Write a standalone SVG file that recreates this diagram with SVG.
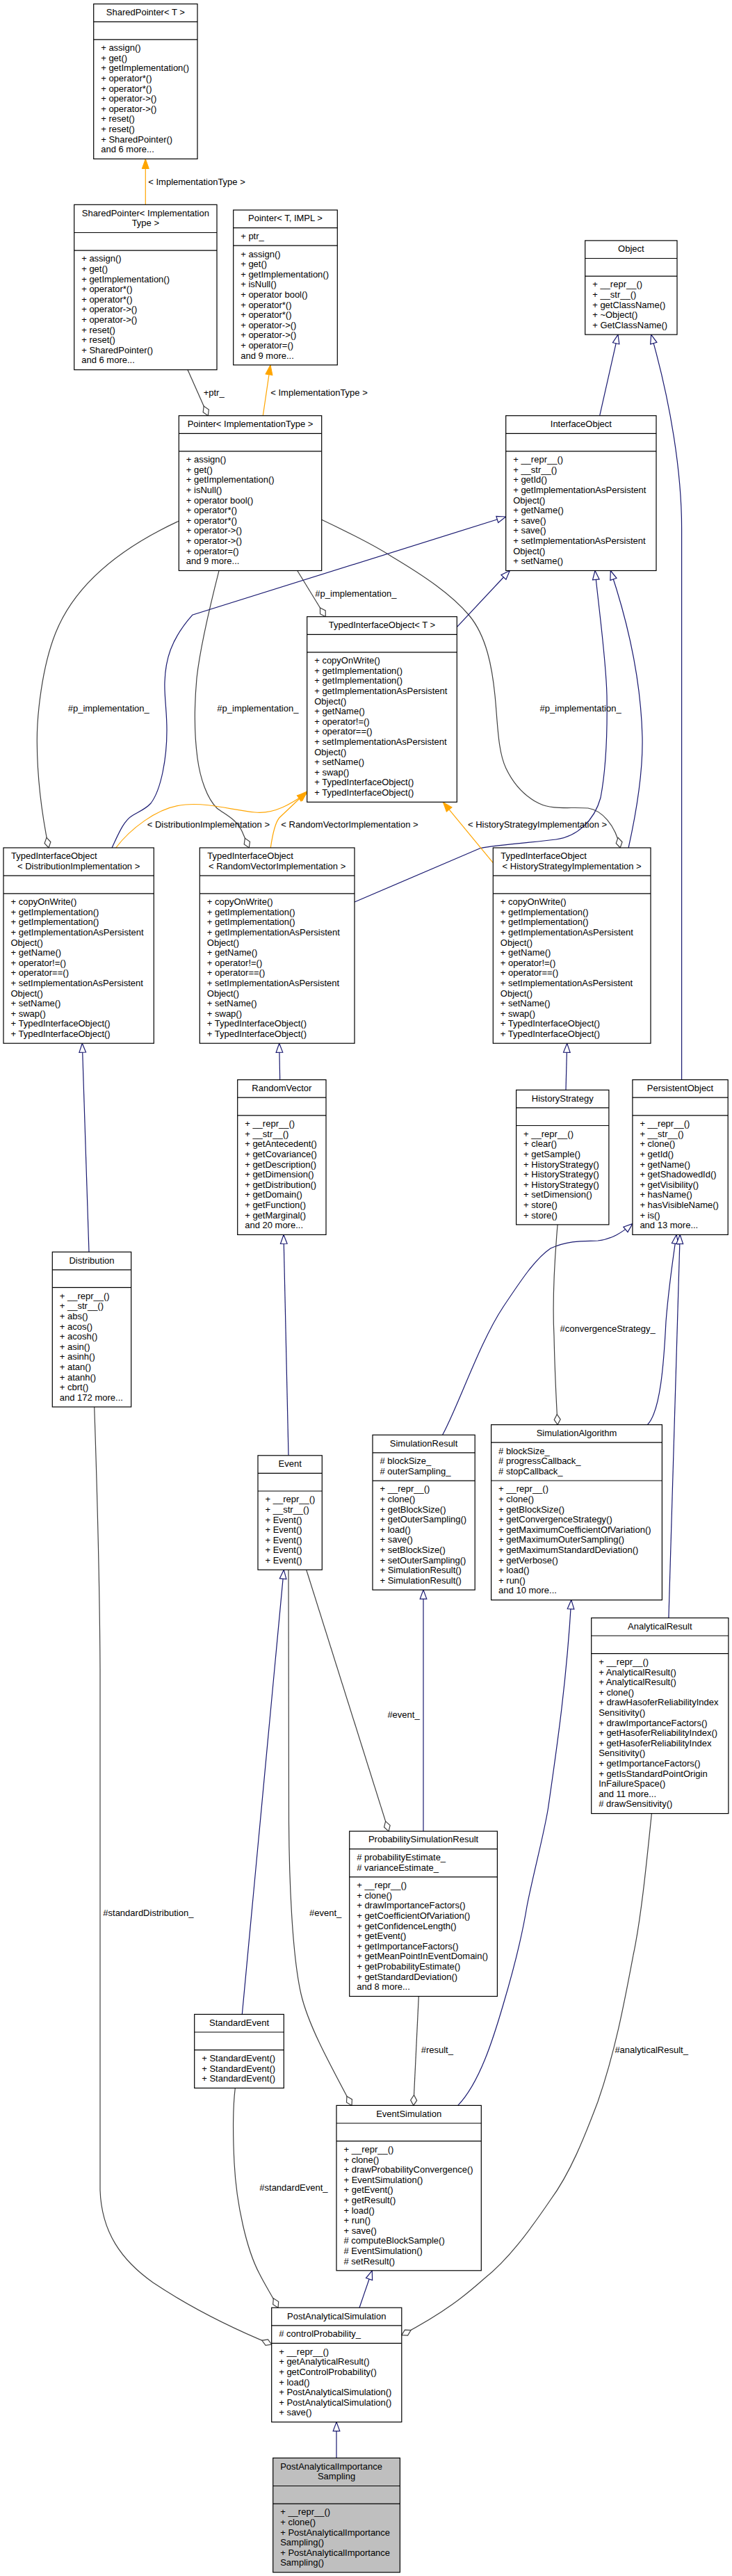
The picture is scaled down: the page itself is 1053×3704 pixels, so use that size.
<svg xmlns="http://www.w3.org/2000/svg" width="1053" height="3704" viewBox="0 0 1053 3704">
<style>
.bg{fill:#fff}
.box{fill:#fff;stroke:#000;stroke-width:1.2}
.gbox{fill:#bfbfbf;stroke:#000;stroke-width:1.2}
.sep{stroke:#000;stroke-width:1.2}
text{font-family:"Liberation Sans",Arial,Helvetica,sans-serif;font-size:13px;fill:#000}
.c{text-anchor:middle}
.inh{fill:none;stroke:#191970;stroke-width:1.2;marker-end:url(#mInh)}
.use{fill:none;stroke:#404040;stroke-width:1.2;marker-end:url(#mDia)}
.tpl{fill:none;stroke:#FFA500;stroke-width:1.2;marker-end:url(#mTpl)}
</style>
<defs>
<marker id="mInh" viewBox="-15 -7 16 14" refX="0" refY="0" markerWidth="16" markerHeight="14" markerUnits="userSpaceOnUse" orient="auto"><path d="M0,0 L-13,-4.8 L-13,4.8 Z" fill="#fff" stroke="#191970" stroke-width="1.2"/></marker>
<marker id="mTpl" viewBox="-15 -7 16 14" refX="0" refY="0" markerWidth="16" markerHeight="14" markerUnits="userSpaceOnUse" orient="auto"><path d="M0,0 L-14,-5 L-14,5 Z" fill="#FFA500" stroke="#FFA500" stroke-width="1"/></marker>
<marker id="mDia" viewBox="-17 -7 18 14" refX="0" refY="0" markerWidth="18" markerHeight="14" markerUnits="userSpaceOnUse" orient="auto"><path d="M0,0 L-7.5,-4.5 L-15,0 L-7.5,4.5 Z" fill="#fff" stroke="#404040" stroke-width="1.2"/></marker>
</defs>
<rect class="bg" x="0" y="0" width="1053" height="3704"/>

<g id="edges">
<path class="tpl" d="M209.3,294.3 L209.3,228.5"/>
<path class="tpl" d="M378.3,597.7 L389,524.8"/>
<path class="use" d="M270,531.7 L299.3,597.7"/>
<path class="use" d="M427.7,820.5 L468.3,886.7"/>
<path class="use" d="M257,749.3 C180,785 110,835 80,910 C60,960 53,1030 53.3,1067 C53.5,1120 60,1170 70,1219"/>
<path class="use" d="M315,820.7 C305,860 288,930 283,975 C279,1020 280,1060 284,1090 C288,1120 298,1148 312,1162 C325,1172 340,1178 348,1195 L358.3,1219"/>
<path class="use" d="M462.7,747.3 C500,765 540,785 563,800 C610,828 650,855 675,885 C700,915 708,960 712,1000 C716,1040 716,1080 728,1105 C740,1130 755,1145 775,1155 C795,1165 820,1160 846,1162 C865,1165 885,1185 892.2,1219"/>
<path class="inh" d="M862.7,597.7 L889,481.1"/>
<path class="inh" d="M980.6,1552.6 L980.6,760 C980.6,680 965,580 936.7,481.1"/>
<path class="inh" d="M657.3,901.7 L733.3,820.5"/>
<path class="inh" d="M161,1219 C170,1200 178,1180 190,1173 C200,1167 210,1163 217,1155 C232,1135 240,1090 240,1050 C240,1020 236,1000 237,980 C238,950 245,920 276.7,884.3 L727.7,743"/>
<path class="inh" d="M510,1297 L690,1220 C700,1216 760,1212 800,1207 C830,1203 855,1180 864,1147 C871,1110 874,1060 873,1000 C872,950 862,880 856,820.5"/>
<path class="inh" d="M904.1,1219 C915,1170 925,1110 924,1060 C922,980 905,900 878.3,820.5"/>
<path class="tpl" d="M166.7,1219 C185,1195 225,1160 266.7,1157 C300,1154 335,1165 366.7,1168 C395,1171 420,1155 441.7,1140"/>
<path class="tpl" d="M389.3,1219 C392,1200 396,1183 401.7,1176 L441.7,1138"/>
<path class="tpl" d="M709.3,1240.7 L637.3,1153.3"/>
<path class="inh" d="M128,1800.2 L118.3,1500.2"/>
<path class="inh" d="M402.7,1552.6 L401.7,1500.2"/>
<path class="inh" d="M814,1567.3 L815.7,1500.2"/>
<path class="inh" d="M415,2092.8 L408,1775.4"/>
<path class="inh" d="M348.3,2896.4 L408.3,2257.2"/>
<path class="inh" d="M636.6,2063.3 C660,2020 690,1930 724,1879 C750,1840 770,1810 792,1795 C820,1782 845,1785 860,1784 C880,1782 895,1772 909.9,1759.6"/>
<path class="inh" d="M931.3,2048.6 C950,2030 955,1960 958,1900 C962,1850 968,1810 973.1,1775.4"/>
<path class="inh" d="M961.9,2326.4 L978.2,1775.4"/>
<path class="use" d="M802.1,1760.9 C797,1820 795,1880 797,1921 C798,1970 800,2010 802.1,2048.6"/>
<path class="inh" d="M609,2633.1 L609,2286.1"/>
<path class="use" d="M440.7,2257.2 L559.1,2633.1"/>
<path class="use" d="M415,2257.2 L415.5,2620 C416,2700 420,2810 433,2867 C443,2910 470,2960 506,3027.4"/>
<path class="use" d="M135.7,2023 C140,2150 143.5,2300 144,2400 L144,3149 C146,3210 175,3250 220,3282 C265,3312 320,3342 390.7,3371"/>
<path class="use" d="M602.3,2870.5 L594.8,3027.4"/>
<path class="inh" d="M658.7,3027.4 C690,2995 710,2930 724,2882 C738,2835 750,2790 758,2741 C768,2690 782,2640 788.5,2600 C800,2520 815,2420 821.8,2300.6"/>
<path class="use" d="M937.4,2607.6 C930,2680 922,2760 911,2811 C898,2880 885,2950 860,3022 C840,3075 820,3125 792,3163 C760,3210 730,3250 697,3276 C670,3300 640,3325 577.8,3357.6"/>
<path class="use" d="M338.3,3002.4 C335,3030 335,3070 337,3110 C340,3170 355,3235 373,3269 C382,3287 392,3302 400,3318.2"/>
<path class="inh" d="M517,3318.2 L535.3,3264.8"/>
<path class="inh" d="M484,3534.3 L484,3482.6"/>
<text x="213.3" y="265.5">&lt; ImplementationType &gt;</text>
<text x="292.7" y="569.3">+ptr_</text>
<text x="389.3" y="569.3">&lt; ImplementationType &gt;</text>
<text x="453.3" y="857.8">#p_implementation_</text>
<text x="97.7" y="1022.8">#p_implementation_</text>
<text x="312.3" y="1022.8">#p_implementation_</text>
<text x="776.6" y="1022.8">#p_implementation_</text>
<text x="211.7" y="1190.2">&lt; DistributionImplementation &gt;</text>
<text x="404.3" y="1190.2">&lt; RandomVectorImplementation &gt;</text>
<text x="673" y="1190.2">&lt; HistoryStrategyImplementation &gt;</text>
<text x="805.5" y="1914.9">#convergenceStrategy_</text>
<text x="557.4" y="2469.8">#event_</text>
<text x="148.3" y="2754.5">#standardDistribution_</text>
<text x="445" y="2754.5">#event_</text>
<text x="605.7" y="2952.3">#result_</text>
<text x="884.4" y="2952.3">#analyticalResult_</text>
<text x="373.3" y="3150.2">#standardEvent_</text>
</g>

<g id="n_sharedpointer_t">
<rect class="box" x="134.7" y="5.7" width="149.3" height="222.8"/>
<path class="sep" d="M134.7,31.3 H284 M134.7,56.9 H284"/>
<text class="c" x="209.35" y="22">SharedPointer&lt; T &gt;</text>
<text x="145.2" y="73.2"><tspan x="145.2">+ assign()</tspan><tspan x="145.2" dy="14.6">+ get()</tspan><tspan x="145.2" dy="14.6">+ getImplementation()</tspan><tspan x="145.2" dy="14.6">+ operator*()</tspan><tspan x="145.2" dy="14.6">+ operator*()</tspan><tspan x="145.2" dy="14.6">+ operator-&gt;()</tspan><tspan x="145.2" dy="14.6">+ operator-&gt;()</tspan><tspan x="145.2" dy="14.6">+ reset()</tspan><tspan x="145.2" dy="14.6">+ reset()</tspan><tspan x="145.2" dy="14.6">+ SharedPointer()</tspan><tspan x="145.2" dy="14.6">and 6 more...</tspan></text>
</g>

<g id="n_sharedpointer_impl">
<rect class="box" x="106.7" y="294.3" width="205.3" height="237.4"/>
<path class="sep" d="M106.7,334.5 H312 M106.7,360.1 H312"/>
<text class="c" x="209.35" y="310.6">SharedPointer&lt; Implementation</text>
<text class="c" x="209.35" y="325.2">Type &gt;</text>
<text x="117.2" y="376.4"><tspan x="117.2">+ assign()</tspan><tspan x="117.2" dy="14.6">+ get()</tspan><tspan x="117.2" dy="14.6">+ getImplementation()</tspan><tspan x="117.2" dy="14.6">+ operator*()</tspan><tspan x="117.2" dy="14.6">+ operator*()</tspan><tspan x="117.2" dy="14.6">+ operator-&gt;()</tspan><tspan x="117.2" dy="14.6">+ operator-&gt;()</tspan><tspan x="117.2" dy="14.6">+ reset()</tspan><tspan x="117.2" dy="14.6">+ reset()</tspan><tspan x="117.2" dy="14.6">+ SharedPointer()</tspan><tspan x="117.2" dy="14.6">and 6 more...</tspan></text>
</g>

<g id="n_pointer_t_impl">
<rect class="box" x="335.7" y="302" width="149.6" height="222.8"/>
<path class="sep" d="M335.7,327.6 H485.3 M335.7,353.2 H485.3"/>
<text class="c" x="410.5" y="318.3">Pointer&lt; T, IMPL &gt;</text>
<text x="346.2" y="343.9">+ ptr_</text>
<text x="346.2" y="369.5"><tspan x="346.2">+ assign()</tspan><tspan x="346.2" dy="14.6">+ get()</tspan><tspan x="346.2" dy="14.6">+ getImplementation()</tspan><tspan x="346.2" dy="14.6">+ isNull()</tspan><tspan x="346.2" dy="14.6">+ operator bool()</tspan><tspan x="346.2" dy="14.6">+ operator*()</tspan><tspan x="346.2" dy="14.6">+ operator*()</tspan><tspan x="346.2" dy="14.6">+ operator-&gt;()</tspan><tspan x="346.2" dy="14.6">+ operator-&gt;()</tspan><tspan x="346.2" dy="14.6">+ operator=()</tspan><tspan x="346.2" dy="14.6">and 9 more...</tspan></text>
</g>

<g id="n_pointer_impl">
<rect class="box" x="257.3" y="597.7" width="205.4" height="222.8"/>
<path class="sep" d="M257.3,623.3 H462.7 M257.3,648.9 H462.7"/>
<text class="c" x="360" y="614">Pointer&lt; ImplementationType &gt;</text>
<text x="267.8" y="665.2"><tspan x="267.8">+ assign()</tspan><tspan x="267.8" dy="14.6">+ get()</tspan><tspan x="267.8" dy="14.6">+ getImplementation()</tspan><tspan x="267.8" dy="14.6">+ isNull()</tspan><tspan x="267.8" dy="14.6">+ operator bool()</tspan><tspan x="267.8" dy="14.6">+ operator*()</tspan><tspan x="267.8" dy="14.6">+ operator*()</tspan><tspan x="267.8" dy="14.6">+ operator-&gt;()</tspan><tspan x="267.8" dy="14.6">+ operator-&gt;()</tspan><tspan x="267.8" dy="14.6">+ operator=()</tspan><tspan x="267.8" dy="14.6">and 9 more...</tspan></text>
</g>

<g id="n_object">
<rect class="box" x="841.7" y="345.9" width="132.3" height="135.2"/>
<path class="sep" d="M841.7,371.5 H974 M841.7,397.1 H974"/>
<text class="c" x="907.85" y="362.2">Object</text>
<text x="852.2" y="413.4"><tspan x="852.2">+ __repr__()</tspan><tspan x="852.2" dy="14.6">+ __str__()</tspan><tspan x="852.2" dy="14.6">+ getClassName()</tspan><tspan x="852.2" dy="14.6">+ ~Object()</tspan><tspan x="852.2" dy="14.6">+ GetClassName()</tspan></text>
</g>

<g id="n_interfaceobject">
<rect class="box" x="727.7" y="597.7" width="216.3" height="222.8"/>
<path class="sep" d="M727.7,623.3 H944 M727.7,648.9 H944"/>
<text class="c" x="835.85" y="614">InterfaceObject</text>
<text x="738.2" y="665.2"><tspan x="738.2">+ __repr__()</tspan><tspan x="738.2" dy="14.6">+ __str__()</tspan><tspan x="738.2" dy="14.6">+ getId()</tspan><tspan x="738.2" dy="14.6">+ getImplementationAsPersistent</tspan><tspan x="738.2" dy="14.6">Object()</tspan><tspan x="738.2" dy="14.6">+ getName()</tspan><tspan x="738.2" dy="14.6">+ save()</tspan><tspan x="738.2" dy="14.6">+ save()</tspan><tspan x="738.2" dy="14.6">+ setImplementationAsPersistent</tspan><tspan x="738.2" dy="14.6">Object()</tspan><tspan x="738.2" dy="14.6">+ setName()</tspan></text>
</g>

<g id="n_tio_t">
<rect class="box" x="441.7" y="886.7" width="215.6" height="266.6"/>
<path class="sep" d="M441.7,912.3 H657.3 M441.7,937.9 H657.3"/>
<text class="c" x="549.5" y="903">TypedInterfaceObject&lt; T &gt;</text>
<text x="452.2" y="954.2"><tspan x="452.2">+ copyOnWrite()</tspan><tspan x="452.2" dy="14.6">+ getImplementation()</tspan><tspan x="452.2" dy="14.6">+ getImplementation()</tspan><tspan x="452.2" dy="14.6">+ getImplementationAsPersistent</tspan><tspan x="452.2" dy="14.6">Object()</tspan><tspan x="452.2" dy="14.6">+ getName()</tspan><tspan x="452.2" dy="14.6">+ operator!=()</tspan><tspan x="452.2" dy="14.6">+ operator==()</tspan><tspan x="452.2" dy="14.6">+ setImplementationAsPersistent</tspan><tspan x="452.2" dy="14.6">Object()</tspan><tspan x="452.2" dy="14.6">+ setName()</tspan><tspan x="452.2" dy="14.6">+ swap()</tspan><tspan x="452.2" dy="14.6">+ TypedInterfaceObject()</tspan><tspan x="452.2" dy="14.6">+ TypedInterfaceObject()</tspan></text>
</g>

<g id="n_tio_distribution">
<rect class="box" x="5" y="1219" width="216.3" height="281.2"/>
<path class="sep" d="M5,1259.2 H221.3 M5,1284.8 H221.3"/>
<text x="16" y="1235.3">TypedInterfaceObject</text>
<text class="c" x="113.15" y="1249.9">&lt; DistributionImplementation &gt;</text>
<text x="15.5" y="1301.1"><tspan x="15.5">+ copyOnWrite()</tspan><tspan x="15.5" dy="14.6">+ getImplementation()</tspan><tspan x="15.5" dy="14.6">+ getImplementation()</tspan><tspan x="15.5" dy="14.6">+ getImplementationAsPersistent</tspan><tspan x="15.5" dy="14.6">Object()</tspan><tspan x="15.5" dy="14.6">+ getName()</tspan><tspan x="15.5" dy="14.6">+ operator!=()</tspan><tspan x="15.5" dy="14.6">+ operator==()</tspan><tspan x="15.5" dy="14.6">+ setImplementationAsPersistent</tspan><tspan x="15.5" dy="14.6">Object()</tspan><tspan x="15.5" dy="14.6">+ setName()</tspan><tspan x="15.5" dy="14.6">+ swap()</tspan><tspan x="15.5" dy="14.6">+ TypedInterfaceObject()</tspan><tspan x="15.5" dy="14.6">+ TypedInterfaceObject()</tspan></text>
</g>

<g id="n_tio_randomvector">
<rect class="box" x="287.3" y="1219" width="222.7" height="281.2"/>
<path class="sep" d="M287.3,1259.2 H510 M287.3,1284.8 H510"/>
<text x="298.3" y="1235.3">TypedInterfaceObject</text>
<text class="c" x="398.65" y="1249.9">&lt; RandomVectorImplementation &gt;</text>
<text x="297.8" y="1301.1"><tspan x="297.8">+ copyOnWrite()</tspan><tspan x="297.8" dy="14.6">+ getImplementation()</tspan><tspan x="297.8" dy="14.6">+ getImplementation()</tspan><tspan x="297.8" dy="14.6">+ getImplementationAsPersistent</tspan><tspan x="297.8" dy="14.6">Object()</tspan><tspan x="297.8" dy="14.6">+ getName()</tspan><tspan x="297.8" dy="14.6">+ operator!=()</tspan><tspan x="297.8" dy="14.6">+ operator==()</tspan><tspan x="297.8" dy="14.6">+ setImplementationAsPersistent</tspan><tspan x="297.8" dy="14.6">Object()</tspan><tspan x="297.8" dy="14.6">+ setName()</tspan><tspan x="297.8" dy="14.6">+ swap()</tspan><tspan x="297.8" dy="14.6">+ TypedInterfaceObject()</tspan><tspan x="297.8" dy="14.6">+ TypedInterfaceObject()</tspan></text>
</g>

<g id="n_tio_historystrategy">
<rect class="box" x="709.3" y="1219" width="226.7" height="281.2"/>
<path class="sep" d="M709.3,1259.2 H936 M709.3,1284.8 H936"/>
<text x="720.3" y="1235.3">TypedInterfaceObject</text>
<text class="c" x="822.65" y="1249.9">&lt; HistoryStrategyImplementation &gt;</text>
<text x="719.8" y="1301.1"><tspan x="719.8">+ copyOnWrite()</tspan><tspan x="719.8" dy="14.6">+ getImplementation()</tspan><tspan x="719.8" dy="14.6">+ getImplementation()</tspan><tspan x="719.8" dy="14.6">+ getImplementationAsPersistent</tspan><tspan x="719.8" dy="14.6">Object()</tspan><tspan x="719.8" dy="14.6">+ getName()</tspan><tspan x="719.8" dy="14.6">+ operator!=()</tspan><tspan x="719.8" dy="14.6">+ operator==()</tspan><tspan x="719.8" dy="14.6">+ setImplementationAsPersistent</tspan><tspan x="719.8" dy="14.6">Object()</tspan><tspan x="719.8" dy="14.6">+ setName()</tspan><tspan x="719.8" dy="14.6">+ swap()</tspan><tspan x="719.8" dy="14.6">+ TypedInterfaceObject()</tspan><tspan x="719.8" dy="14.6">+ TypedInterfaceObject()</tspan></text>
</g>

<g id="n_randomvector">
<rect class="box" x="341.7" y="1552.6" width="127.3" height="222.8"/>
<path class="sep" d="M341.7,1578.2 H469 M341.7,1603.8 H469"/>
<text class="c" x="405.35" y="1568.9">RandomVector</text>
<text x="352.2" y="1620.1"><tspan x="352.2">+ __repr__()</tspan><tspan x="352.2" dy="14.6">+ __str__()</tspan><tspan x="352.2" dy="14.6">+ getAntecedent()</tspan><tspan x="352.2" dy="14.6">+ getCovariance()</tspan><tspan x="352.2" dy="14.6">+ getDescription()</tspan><tspan x="352.2" dy="14.6">+ getDimension()</tspan><tspan x="352.2" dy="14.6">+ getDistribution()</tspan><tspan x="352.2" dy="14.6">+ getDomain()</tspan><tspan x="352.2" dy="14.6">+ getFunction()</tspan><tspan x="352.2" dy="14.6">+ getMarginal()</tspan><tspan x="352.2" dy="14.6">and 20 more...</tspan></text>
</g>

<g id="n_distribution">
<rect class="box" x="75.3" y="1800.2" width="113.4" height="222.8"/>
<path class="sep" d="M75.3,1825.8 H188.7 M75.3,1851.4 H188.7"/>
<text class="c" x="132" y="1816.5">Distribution</text>
<text x="85.8" y="1867.7"><tspan x="85.8">+ __repr__()</tspan><tspan x="85.8" dy="14.6">+ __str__()</tspan><tspan x="85.8" dy="14.6">+ abs()</tspan><tspan x="85.8" dy="14.6">+ acos()</tspan><tspan x="85.8" dy="14.6">+ acosh()</tspan><tspan x="85.8" dy="14.6">+ asin()</tspan><tspan x="85.8" dy="14.6">+ asinh()</tspan><tspan x="85.8" dy="14.6">+ atan()</tspan><tspan x="85.8" dy="14.6">+ atanh()</tspan><tspan x="85.8" dy="14.6">+ cbrt()</tspan><tspan x="85.8" dy="14.6">and 172 more...</tspan></text>
</g>

<g id="n_historystrategy">
<rect class="box" x="742.6" y="1567.3" width="133.3" height="193.6"/>
<path class="sep" d="M742.6,1592.9 H875.9 M742.6,1618.5 H875.9"/>
<text class="c" x="809.25" y="1583.6">HistoryStrategy</text>
<text x="753.1" y="1634.8"><tspan x="753.1">+ __repr__()</tspan><tspan x="753.1" dy="14.6">+ clear()</tspan><tspan x="753.1" dy="14.6">+ getSample()</tspan><tspan x="753.1" dy="14.6">+ HistoryStrategy()</tspan><tspan x="753.1" dy="14.6">+ HistoryStrategy()</tspan><tspan x="753.1" dy="14.6">+ HistoryStrategy()</tspan><tspan x="753.1" dy="14.6">+ setDimension()</tspan><tspan x="753.1" dy="14.6">+ store()</tspan><tspan x="753.1" dy="14.6">+ store()</tspan></text>
</g>

<g id="n_persistentobject">
<rect class="box" x="909.9" y="1552.6" width="137.3" height="222.8"/>
<path class="sep" d="M909.9,1578.2 H1047.2 M909.9,1603.8 H1047.2"/>
<text class="c" x="978.55" y="1568.9">PersistentObject</text>
<text x="920.4" y="1620.1"><tspan x="920.4">+ __repr__()</tspan><tspan x="920.4" dy="14.6">+ __str__()</tspan><tspan x="920.4" dy="14.6">+ clone()</tspan><tspan x="920.4" dy="14.6">+ getId()</tspan><tspan x="920.4" dy="14.6">+ getName()</tspan><tspan x="920.4" dy="14.6">+ getShadowedId()</tspan><tspan x="920.4" dy="14.6">+ getVisibility()</tspan><tspan x="920.4" dy="14.6">+ hasName()</tspan><tspan x="920.4" dy="14.6">+ hasVisibleName()</tspan><tspan x="920.4" dy="14.6">+ is()</tspan><tspan x="920.4" dy="14.6">and 13 more...</tspan></text>
</g>

<g id="n_event">
<rect class="box" x="371" y="2092.8" width="92.3" height="164.4"/>
<path class="sep" d="M371,2118.4 H463.3 M371,2144 H463.3"/>
<text class="c" x="417.15" y="2109.1">Event</text>
<text x="381.5" y="2160.3"><tspan x="381.5">+ __repr__()</tspan><tspan x="381.5" dy="14.6">+ __str__()</tspan><tspan x="381.5" dy="14.6">+ Event()</tspan><tspan x="381.5" dy="14.6">+ Event()</tspan><tspan x="381.5" dy="14.6">+ Event()</tspan><tspan x="381.5" dy="14.6">+ Event()</tspan><tspan x="381.5" dy="14.6">+ Event()</tspan></text>
</g>

<g id="n_simulationresult">
<rect class="box" x="536" y="2063.3" width="147.2" height="222.8"/>
<path class="sep" d="M536,2088.9 H683.2 M536,2129.1 H683.2"/>
<text class="c" x="609.6" y="2079.6">SimulationResult</text>
<text x="546.5" y="2105.2"><tspan x="546.5"># blockSize_</tspan><tspan x="546.5" dy="14.6"># outerSampling_</tspan></text>
<text x="546.5" y="2145.4"><tspan x="546.5">+ __repr__()</tspan><tspan x="546.5" dy="14.6">+ clone()</tspan><tspan x="546.5" dy="14.6">+ getBlockSize()</tspan><tspan x="546.5" dy="14.6">+ getOuterSampling()</tspan><tspan x="546.5" dy="14.6">+ load()</tspan><tspan x="546.5" dy="14.6">+ save()</tspan><tspan x="546.5" dy="14.6">+ setBlockSize()</tspan><tspan x="546.5" dy="14.6">+ setOuterSampling()</tspan><tspan x="546.5" dy="14.6">+ SimulationResult()</tspan><tspan x="546.5" dy="14.6">+ SimulationResult()</tspan></text>
</g>

<g id="n_simulationalgorithm">
<rect class="box" x="706.6" y="2048.6" width="245.8" height="252"/>
<path class="sep" d="M706.6,2074.2 H952.4 M706.6,2129 H952.4"/>
<text class="c" x="829.5" y="2064.9">SimulationAlgorithm</text>
<text x="717.1" y="2090.5"><tspan x="717.1"># blockSize_</tspan><tspan x="717.1" dy="14.6"># progressCallback_</tspan><tspan x="717.1" dy="14.6"># stopCallback_</tspan></text>
<text x="717.1" y="2145.3"><tspan x="717.1">+ __repr__()</tspan><tspan x="717.1" dy="14.6">+ clone()</tspan><tspan x="717.1" dy="14.6">+ getBlockSize()</tspan><tspan x="717.1" dy="14.6">+ getConvergenceStrategy()</tspan><tspan x="717.1" dy="14.6">+ getMaximumCoefficientOfVariation()</tspan><tspan x="717.1" dy="14.6">+ getMaximumOuterSampling()</tspan><tspan x="717.1" dy="14.6">+ getMaximumStandardDeviation()</tspan><tspan x="717.1" dy="14.6">+ getVerbose()</tspan><tspan x="717.1" dy="14.6">+ load()</tspan><tspan x="717.1" dy="14.6">+ run()</tspan><tspan x="717.1" dy="14.6">and 10 more...</tspan></text>
</g>

<g id="n_analyticalresult">
<rect class="box" x="850.7" y="2326.4" width="197.2" height="281.2"/>
<path class="sep" d="M850.7,2352 H1047.9 M850.7,2377.6 H1047.9"/>
<text class="c" x="949.3" y="2342.7">AnalyticalResult</text>
<text x="861.2" y="2393.9"><tspan x="861.2">+ __repr__()</tspan><tspan x="861.2" dy="14.6">+ AnalyticalResult()</tspan><tspan x="861.2" dy="14.6">+ AnalyticalResult()</tspan><tspan x="861.2" dy="14.6">+ clone()</tspan><tspan x="861.2" dy="14.6">+ drawHasoferReliabilityIndex</tspan><tspan x="861.2" dy="14.6">Sensitivity()</tspan><tspan x="861.2" dy="14.6">+ drawImportanceFactors()</tspan><tspan x="861.2" dy="14.6">+ getHasoferReliabilityIndex()</tspan><tspan x="861.2" dy="14.6">+ getHasoferReliabilityIndex</tspan><tspan x="861.2" dy="14.6">Sensitivity()</tspan><tspan x="861.2" dy="14.6">+ getImportanceFactors()</tspan><tspan x="861.2" dy="14.6">+ getIsStandardPointOrigin</tspan><tspan x="861.2" dy="14.6">InFailureSpace()</tspan><tspan x="861.2" dy="14.6">and 11 more...</tspan><tspan x="861.2" dy="14.6"># drawSensitivity()</tspan></text>
</g>

<g id="n_probabilitysimulationresult">
<rect class="box" x="502.7" y="2633.1" width="212.7" height="237.4"/>
<path class="sep" d="M502.7,2658.7 H715.4 M502.7,2698.9 H715.4"/>
<text class="c" x="609.05" y="2649.4">ProbabilitySimulationResult</text>
<text x="513.2" y="2675"><tspan x="513.2"># probabilityEstimate_</tspan><tspan x="513.2" dy="14.6"># varianceEstimate_</tspan></text>
<text x="513.2" y="2715.2"><tspan x="513.2">+ __repr__()</tspan><tspan x="513.2" dy="14.6">+ clone()</tspan><tspan x="513.2" dy="14.6">+ drawImportanceFactors()</tspan><tspan x="513.2" dy="14.6">+ getCoefficientOfVariation()</tspan><tspan x="513.2" dy="14.6">+ getConfidenceLength()</tspan><tspan x="513.2" dy="14.6">+ getEvent()</tspan><tspan x="513.2" dy="14.6">+ getImportanceFactors()</tspan><tspan x="513.2" dy="14.6">+ getMeanPointInEventDomain()</tspan><tspan x="513.2" dy="14.6">+ getProbabilityEstimate()</tspan><tspan x="513.2" dy="14.6">+ getStandardDeviation()</tspan><tspan x="513.2" dy="14.6">and 8 more...</tspan></text>
</g>

<g id="n_standardevent">
<rect class="box" x="279.7" y="2896.4" width="128.6" height="106"/>
<path class="sep" d="M279.7,2922 H408.3 M279.7,2947.6 H408.3"/>
<text class="c" x="344" y="2912.7">StandardEvent</text>
<text x="290.2" y="2963.9"><tspan x="290.2">+ StandardEvent()</tspan><tspan x="290.2" dy="14.6">+ StandardEvent()</tspan><tspan x="290.2" dy="14.6">+ StandardEvent()</tspan></text>
</g>

<g id="n_eventsimulation">
<rect class="box" x="484" y="3027.4" width="208.3" height="237.4"/>
<path class="sep" d="M484,3053 H692.3 M484,3078.6 H692.3"/>
<text class="c" x="588.15" y="3043.7">EventSimulation</text>
<text x="494.5" y="3094.9"><tspan x="494.5">+ __repr__()</tspan><tspan x="494.5" dy="14.6">+ clone()</tspan><tspan x="494.5" dy="14.6">+ drawProbabilityConvergence()</tspan><tspan x="494.5" dy="14.6">+ EventSimulation()</tspan><tspan x="494.5" dy="14.6">+ getEvent()</tspan><tspan x="494.5" dy="14.6">+ getResult()</tspan><tspan x="494.5" dy="14.6">+ load()</tspan><tspan x="494.5" dy="14.6">+ run()</tspan><tspan x="494.5" dy="14.6">+ save()</tspan><tspan x="494.5" dy="14.6"># computeBlockSample()</tspan><tspan x="494.5" dy="14.6"># EventSimulation()</tspan><tspan x="494.5" dy="14.6"># setResult()</tspan></text>
</g>

<g id="n_postanalyticalsimulation">
<rect class="box" x="390.7" y="3318.2" width="187.1" height="164.4"/>
<path class="sep" d="M390.7,3343.8 H577.8 M390.7,3369.4 H577.8"/>
<text class="c" x="484.25" y="3334.5">PostAnalyticalSimulation</text>
<text x="401.2" y="3360.1"># controlProbability_</text>
<text x="401.2" y="3385.7"><tspan x="401.2">+ __repr__()</tspan><tspan x="401.2" dy="14.6">+ getAnalyticalResult()</tspan><tspan x="401.2" dy="14.6">+ getControlProbability()</tspan><tspan x="401.2" dy="14.6">+ load()</tspan><tspan x="401.2" dy="14.6">+ PostAnalyticalSimulation()</tspan><tspan x="401.2" dy="14.6">+ PostAnalyticalSimulation()</tspan><tspan x="401.2" dy="14.6">+ save()</tspan></text>
</g>

<g id="n_postanalyticalimportancesampling">
<rect class="gbox" x="392.7" y="3534.3" width="182.7" height="164.4"/>
<path class="sep" d="M392.7,3574.5 H575.4 M392.7,3600.1 H575.4"/>
<text x="403.2" y="3550.6">PostAnalyticalImportance</text>
<text class="c" x="484.05" y="3565.2">Sampling</text>
<text x="403.2" y="3616.4"><tspan x="403.2">+ __repr__()</tspan><tspan x="403.2" dy="14.6">+ clone()</tspan><tspan x="403.2" dy="14.6">+ PostAnalyticalImportance</tspan><tspan x="403.2" dy="14.6">Sampling()</tspan><tspan x="403.2" dy="14.6">+ PostAnalyticalImportance</tspan><tspan x="403.2" dy="14.6">Sampling()</tspan></text>
</g>
</svg>
